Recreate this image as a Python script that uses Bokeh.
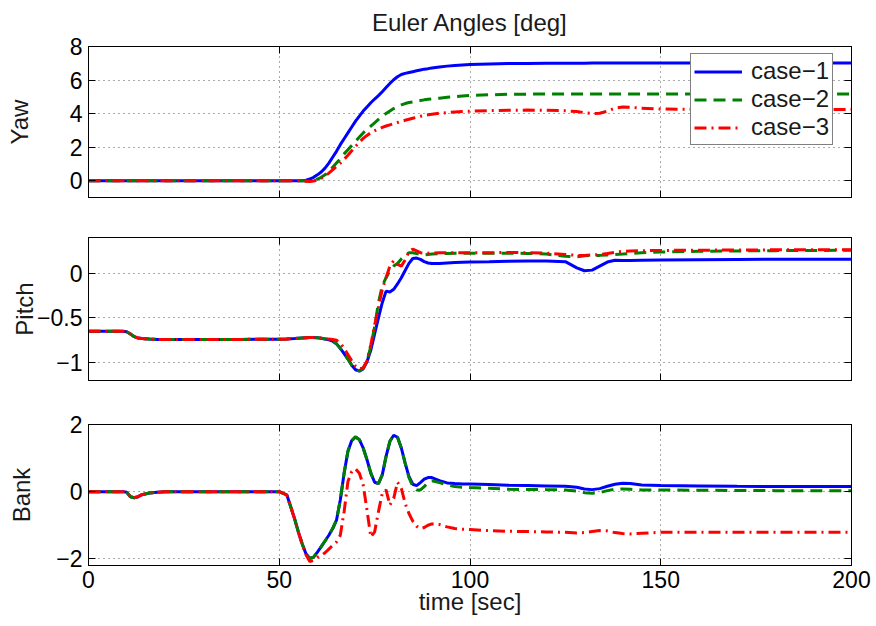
from bokeh.plotting import figure
from bokeh.layouts import column
from bokeh.models import FixedTicker, LinearAxis, Range1d, Legend, LegendItem
from bokeh.embed import file_html
from bokeh.resources import INLINE

# ---------------- data ----------------
T = [0, 5, 9, 10, 11, 12, 13, 14, 16, 18, 20, 30, 40, 50,
     52, 54, 55,
     56, 57, 58, 59, 60, 61, 62, 63, 64, 65, 66, 67, 68, 69, 70, 71, 72, 73, 74, 75,
     76, 77, 78, 79, 80, 81, 82, 83, 84, 85, 86, 87, 88, 89, 90,
     92, 94, 96, 98, 100,
     105, 110, 115, 120, 125,
     128, 130, 132, 134, 136, 138, 140, 142, 145, 150,
     160, 170, 180, 190, 200]

yaw_case1 = [0, 0, 0, 0, 0, 0, 0, 0, 0, 0, 0, 0, 0, 0,
             0, 0, 0,
             0.0, 0.03, 0.1, 0.2, 0.35, 0.52, 0.75, 1.05, 1.4, 1.75,
             2.15, 2.5, 2.85, 3.2, 3.55, 3.85, 4.15, 4.4, 4.65, 4.87,
             5.07, 5.3, 5.55, 5.8, 6.02, 6.2, 6.33, 6.4, 6.45, 6.5,
             6.55, 6.6, 6.65, 6.68, 6.72,
             6.78, 6.83, 6.87, 6.9, 6.93,
             6.96, 6.98, 6.99, 7.0, 7.0,
             7.0, 7.0, 7.01, 7.01, 7.02, 7.02, 7.02, 7.02, 7.02, 7.02,
             7.02, 7.02, 7.02, 7.02, 7.02]
yaw_case2 = [0, 0, 0, 0, 0, 0, 0, 0, 0, 0, 0, 0, 0, 0,
             0, 0, 0,
             0.0, -0.02, -0.04, 0.0, 0.1, 0.2, 0.35, 0.55, 0.8, 1.05,
             1.3, 1.6, 1.85, 2.1, 2.35, 2.6, 2.85, 3.05, 3.25, 3.45,
             3.65, 3.85, 4.0, 4.15, 4.3, 4.42, 4.52, 4.6, 4.66, 4.7,
             4.74, 4.78, 4.82, 4.85, 4.88,
             4.92, 4.97, 5.01, 5.05, 5.09,
             5.12, 5.15, 5.16, 5.17, 5.17,
             5.17, 5.17, 5.17, 5.17, 5.17, 5.17, 5.17, 5.17, 5.17, 5.17,
             5.17, 5.17, 5.17, 5.17, 5.17]
yaw_case3 = [0, 0, 0, 0, 0, 0, 0, 0, 0, 0, 0, 0, 0, 0,
             0, 0, 0,
             0.0, -0.03, -0.05, -0.02, 0.05, 0.15, 0.28, 0.45, 0.65, 0.85,
             1.05, 1.28, 1.52, 1.78, 2.05, 2.3, 2.52, 2.7, 2.86, 2.98,
             3.08, 3.18, 3.26, 3.33, 3.4, 3.47, 3.54, 3.6, 3.66, 3.72,
             3.78, 3.84, 3.89, 3.93, 3.96,
             4.02, 4.06, 4.09, 4.12, 4.14,
             4.18, 4.2, 4.21, 4.2, 4.17,
             4.12, 4.06, 4.01, 4.02, 4.15, 4.32, 4.4, 4.38, 4.32, 4.27,
             4.25, 4.24, 4.24, 4.24, 4.24]

pitch_case1 = [-0.65, -0.65, -0.65, -0.655, -0.68, -0.71, -0.725, -0.73, -0.737, -0.74, -0.74, -0.74, -0.74, -0.738,
               -0.735, -0.73, -0.727,
               -0.724, -0.722, -0.72, -0.72, -0.722, -0.727, -0.735, -0.745, -0.76, -0.79,
               -0.84, -0.9, -0.96, -1.03, -1.08, -1.095, -1.07, -0.99, -0.86, -0.68,
               -0.5, -0.33, -0.2, -0.21, -0.18, -0.12, -0.05, 0.03, 0.11, 0.165,
               0.17, 0.155, 0.13, 0.115, 0.108,
               0.11, 0.115, 0.12, 0.123, 0.126,
               0.13, 0.135, 0.137, 0.138, 0.13,
               0.06, 0.028, 0.035, 0.08, 0.125, 0.145, 0.143, 0.142, 0.145, 0.148,
               0.152, 0.155, 0.156, 0.157, 0.157]
pitch_case2 = [-0.65, -0.65, -0.65, -0.655, -0.68, -0.71, -0.725, -0.73, -0.737, -0.74, -0.74, -0.74, -0.74, -0.738,
               -0.735, -0.73, -0.727,
               -0.724, -0.722, -0.72, -0.72, -0.722, -0.727, -0.735, -0.745, -0.76, -0.79,
               -0.84, -0.9, -0.96, -1.03, -1.08, -1.09, -1.065, -0.98, -0.82, -0.6,
               -0.33, -0.14, -0.05, 0.03, 0.08, 0.11, 0.16, 0.2, 0.23, 0.23,
               0.22, 0.21, 0.205, 0.21, 0.215,
               0.22, 0.222, 0.224, 0.224, 0.225,
               0.225, 0.225, 0.222, 0.215, 0.19,
               0.185, 0.195, 0.2, 0.2, 0.205, 0.21, 0.215, 0.222, 0.23, 0.238,
               0.245, 0.25, 0.253, 0.255, 0.257]
pitch_case3 = [-0.65, -0.65, -0.65, -0.655, -0.68, -0.71, -0.725, -0.73, -0.737, -0.74, -0.74, -0.74, -0.74, -0.738,
               -0.735, -0.73, -0.727,
               -0.724, -0.722, -0.72, -0.72, -0.722, -0.727, -0.732, -0.737, -0.74, -0.75,
               -0.78, -0.84, -0.91, -0.98, -1.04, -1.07, -1.06, -0.98, -0.8, -0.58,
               -0.38, -0.18, -0.05, 0.08, 0.14, 0.1, 0.08, 0.15, 0.24, 0.27,
               0.25, 0.23, 0.225, 0.225, 0.227,
               0.228, 0.229, 0.23, 0.23, 0.23,
               0.23, 0.232, 0.23, 0.225, 0.21,
               0.2, 0.2, 0.205, 0.21, 0.22, 0.235, 0.245, 0.25, 0.252, 0.255,
               0.258, 0.26, 0.262, 0.263, 0.264]

bank_case1 = [0, 0, 0, -0.02, -0.15, -0.18, -0.15, -0.09, -0.04, -0.015, -0.005, 0, 0, 0,
              -0.1, -0.8, -1.2,
              -1.55, -1.85, -1.99, -1.95, -1.8, -1.64, -1.47, -1.3, -1.1, -0.85,
              -0.25, 0.55, 1.2, 1.52, 1.63, 1.55, 1.3, 0.95, 0.55, 0.28,
              0.24, 0.5, 1.05, 1.5, 1.68, 1.62, 1.3, 0.85, 0.45, 0.22,
              0.18, 0.27, 0.37, 0.42, 0.42,
              0.33, 0.26, 0.24, 0.23, 0.23,
              0.21, 0.19, 0.18, 0.17, 0.16,
              0.13, 0.08, 0.06, 0.09, 0.16, 0.22, 0.25, 0.24, 0.2, 0.18,
              0.17, 0.16, 0.155, 0.15, 0.15]
bank_case2 = [0, 0, 0, -0.02, -0.15, -0.18, -0.15, -0.09, -0.04, -0.015, -0.005, 0, 0, 0,
              -0.1, -0.8, -1.2,
              -1.55, -1.85, -1.99, -1.95, -1.8, -1.64, -1.47, -1.3, -1.1, -0.85,
              -0.25, 0.55, 1.2, 1.52, 1.63, 1.55, 1.3, 0.95, 0.55, 0.28,
              0.24, 0.5, 1.05, 1.5, 1.68, 1.62, 1.3, 0.85, 0.42, 0.15,
              0.05, 0.05, 0.15, 0.27, 0.32,
              0.27, 0.2, 0.15, 0.13, 0.12,
              0.1, 0.07, 0.065, 0.06, 0.05,
              0.02, -0.03, -0.05, -0.03, 0.03, 0.07, 0.08, 0.07, 0.05, 0.05,
              0.04, 0.035, 0.03, 0.03, 0.03]
bank_case3 = [0, 0, 0, -0.02, -0.15, -0.18, -0.15, -0.09, -0.04, -0.015, -0.005, 0, 0, 0,
              -0.1, -0.8, -1.2,
              -1.55, -1.88, -2.08, -2.05, -1.96, -1.9, -1.82, -1.71, -1.6, -1.5,
              -1.3, -0.6, 0.3, 0.6, 0.68, 0.55, 0.2, -0.55, -1.35, -1.2,
              -0.6, -0.05, 0.05, -0.4, -0.2, 0.28, 0.1, -0.35, -0.65, -0.88,
              -1.03, -1.1, -1.07, -1.0, -0.96,
              -0.98, -1.05, -1.1, -1.12, -1.13,
              -1.16, -1.18, -1.19, -1.2, -1.21,
              -1.23, -1.22, -1.19, -1.16, -1.17, -1.22, -1.25, -1.26, -1.24, -1.21,
              -1.21, -1.21, -1.21, -1.21, -1.21]

case_labels = ["case\u22121", "case\u22122", "case\u22123"]
x_ticks = [0, 50, 100, 150, 200]
x_tick_labels = ["0", "50", "100", "150", "200"]
yaw_ticks = [0, 2, 4, 6, 8]
yaw_tick_labels = ["0", "2", "4", "6", "8"]
pitch_ticks = [-1, -0.5, 0]
pitch_tick_labels = ["\u22121", "\u22120.5", "0"]
bank_ticks = [-2, 0, 2]
bank_tick_labels = ["\u22122", "0", "2"]

# ---------------- styling ----------------
FONT = "Liberation Sans"
TXT = "#1a1a1a"
TICK_FS = "23px"
LBL_FS = "24px"
COLORS = ["#0000FF", "#008000", "#FF0000"]
DASHES = ["solid", "12 7", "12 5 2 5"]
W = 876
ML, MR = 88, 25


def style(ax, ticks, labels, show):
    ax.ticker = FixedTicker(ticks=ticks)
    ax.major_tick_in = 7
    ax.major_tick_out = 0
    ax.minor_tick_line_color = None
    ax.axis_line_color = "black"
    ax.major_tick_line_color = "black"
    ax.axis_label_text_font = FONT
    ax.axis_label_text_font_style = "normal"
    ax.axis_label_text_font_size = LBL_FS
    ax.axis_label_text_color = TXT
    ax.major_label_text_font = FONT
    if show:
        ax.major_label_overrides = {t: l for t, l in zip(ticks, labels)}
        ax.major_label_text_font_size = TICK_FS
        ax.major_label_text_color = "black"
        ax.major_label_standoff = 6
    else:
        # tick marks only, labels not painted
        ax.major_label_text_font_size = "1px"
        ax.major_label_text_color = None
        ax.major_label_standoff = 0


def make(height, top, bottom, yr, yt, ytl, ylabel, ystand, show_x, series):
    p = figure(width=W, height=height, x_range=Range1d(0, 200), y_range=Range1d(*yr),
               output_backend="svg", toolbar_location=None,
               min_border_left=ML, min_border_right=MR,
               min_border_top=top, min_border_bottom=bottom)
    p.background_fill_color = "white"
    p.border_fill_color = "white"
    p.outline_line_color = "black"
    p.outline_line_width = 1
    xb = p.xaxis[0]
    yl = p.yaxis[0]
    style(xb, x_ticks, x_tick_labels, show_x)
    style(yl, yt, ytl, True)
    yl.axis_label = ylabel
    yl.axis_label_standoff = ystand
    ra = LinearAxis()
    style(ra, yt, ytl, False)
    p.add_layout(ra, "right")
    ta = LinearAxis()
    style(ta, x_ticks, x_tick_labels, False)
    p.add_layout(ta, "above")
    for g in (p.xgrid[0], p.ygrid[0]):
        g.grid_line_color = "#555555"
        g.grid_line_dash = "1 4"
        g.grid_line_width = 1
    p.xgrid[0].ticker = FixedTicker(ticks=x_ticks)
    p.ygrid[0].ticker = FixedTicker(ticks=yt)
    rs = []
    for ys, c, d in zip(series, COLORS, DASHES):
        rs.append(p.line(T, ys, line_color=c, line_width=3, line_dash=d))
    return p, rs, xb


p1, r1, _ = make(217, 45, 20, (-1, 8), yaw_ticks, yaw_tick_labels, "Yaw", 34, False,
                 [yaw_case1, yaw_case2, yaw_case3])
p1.title.text = "Euler Angles [deg]"
p1.title.align = "center"
p1.title.vertical_align = "top"
p1.title.text_font = FONT
p1.title.text_font_size = LBL_FS
p1.title.text_font_style = "normal"
p1.title.text_color = TXT
p1.title.standoff = 17

legend = Legend(items=[LegendItem(label=l, renderers=[r]) for l, r in zip(case_labels, r1)],
                location=(602, 52))
legend.label_text_font = FONT
legend.label_text_font_size = LBL_FS
legend.label_text_color = TXT
legend.border_line_color = "black"
legend.border_line_width = 1.2
legend.background_fill_color = "white"
legend.background_fill_alpha = 1
legend.glyph_width = 48
legend.glyph_height = 27
legend.label_height = 27
legend.label_standoff = 9
legend.padding = 3
legend.spacing = 0
legend.margin = 0
p1.add_layout(legend)

p2, _, _ = make(185, 20, 22, (-1.2, 0.4), pitch_ticks, pitch_tick_labels, "Pitch", -4, False,
                [pitch_case1, pitch_case2, pitch_case3])

p3, _, xb3 = make(224, 22, 61, (-2.2, 2), bank_ticks, bank_tick_labels, "Bank", 18, True,
                  [bank_case1, bank_case2, bank_case3])
xb3.axis_label = "time [sec]"
xb3.major_label_standoff = 5
xb3.axis_label_standoff = -3

layout = column(p1, p2, p3, spacing=0)
open("out.html", "w").write(file_html(layout, INLINE))
